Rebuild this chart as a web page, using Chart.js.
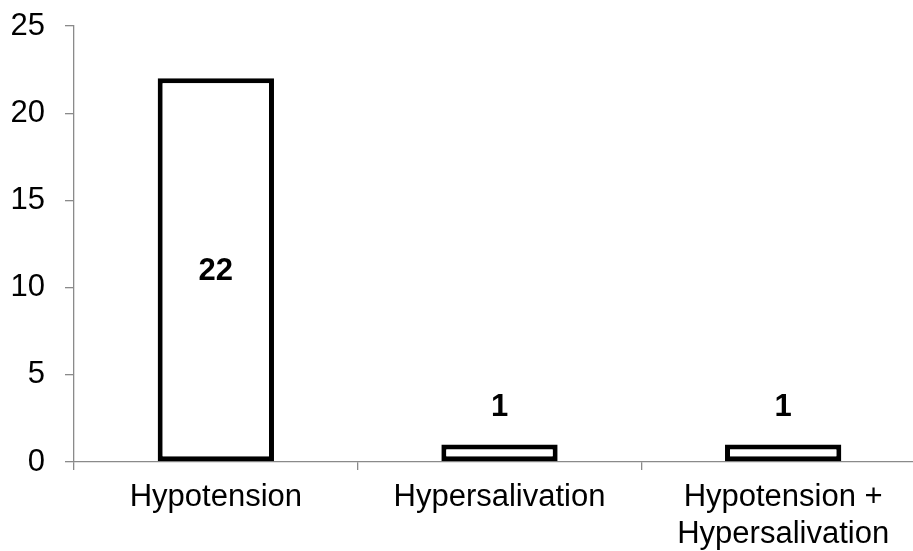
<!DOCTYPE html>
<html>
<head>
<meta charset="utf-8">
<script src="https://cdn.jsdelivr.net/npm/chart.js@4/dist/chart.umd.min.js"></script>
<style>
  html, body { margin: 0; padding: 0; background: #fff; overflow: hidden; }
  #wrap { width: 925px; height: 551px; }
</style>
</head>
<body>
<div id="wrap"><canvas id="chart" width="925" height="551"></canvas></div>
<script>
// Adverse events by type (number of cases)
const categories = ['Hypotension', 'Hypersalivation', ['Hypotension +', 'Hypersalivation']];
const counts = [22, 1, 1];
const yTicks = [0, 5, 10, 15, 20, 25];

const FONT = '"Liberation Sans", Arial, Helvetica, sans-serif';
const AXIS_GREY = '#8a8a8a';

// Value labels: centred inside tall bars, above short ones
const valueLabels = {
  id: 'valueLabels',
  afterDatasetsDraw(chart) {
    const ctx = chart.ctx;
    const meta = chart.getDatasetMeta(0);
    ctx.save();
    ctx.font = 'bold 31px ' + FONT;
    ctx.fillStyle = '#000';
    ctx.textAlign = 'center';
    ctx.textBaseline = 'middle';
    meta.data.forEach((bar, i) => {
      const h = bar.base - bar.y;
      const y = h > 80 ? (bar.y + bar.base) / 2 + 2 : bar.y - 37;
      ctx.fillText(String(counts[i]), bar.x, y);
    });
    ctx.restore();
  }
};

new Chart(document.getElementById('chart'), {
  type: 'bar',
  data: {
    labels: categories,
    datasets: [{
      data: counts,
      backgroundColor: '#ffffff',
      borderColor: '#000000',
      borderWidth: 5,
      borderSkipped: false,
      categoryPercentage: 1.0,
      barPercentage: 0.41
    }]
  },
  options: {
    responsive: false,
    animation: false,
    devicePixelRatio: 1,
    layout: { padding: { top: 26, left: 0, right: 0, bottom: 0 } },
    plugins: {
      legend: { display: false },
      tooltip: { enabled: false }
    },
    scales: {
      x: {
        grid: {
          drawOnChartArea: false,
          drawTicks: true,
          tickLength: 8,
          color: AXIS_GREY,
          lineWidth: 1.3,
          offset: true
        },
        border: { color: AXIS_GREY, width: 1.3 },
        ticks: {
          color: '#000',
          font: { family: FONT, size: 31, lineHeight: 1.2 },
          padding: 9,
          maxRotation: 0,
          autoSkip: false
        },
        afterFit(scale) {
          scale.height = 89;
          scale.paddingLeft = 0;
          scale.paddingRight = 0;
        }
      },
      y: {
        min: 0,
        max: 25,
        afterBuildTicks(scale) { scale.ticks = yTicks.map(v => ({ value: v })); },
        grid: {
          drawOnChartArea: false,
          drawTicks: true,
          tickLength: 9,
          color: AXIS_GREY,
          lineWidth: 1.3
        },
        border: { color: AXIS_GREY, width: 1.3 },
        ticks: {
          color: '#000',
          font: { family: FONT, size: 31 },
          padding: 20
        },
        afterFit(scale) {
          scale.width = 74;
          scale.paddingTop = 0;
          scale.paddingBottom = 0;
        }
      }
    }
  },
  plugins: [valueLabels]
});
</script>
</body>
</html>
